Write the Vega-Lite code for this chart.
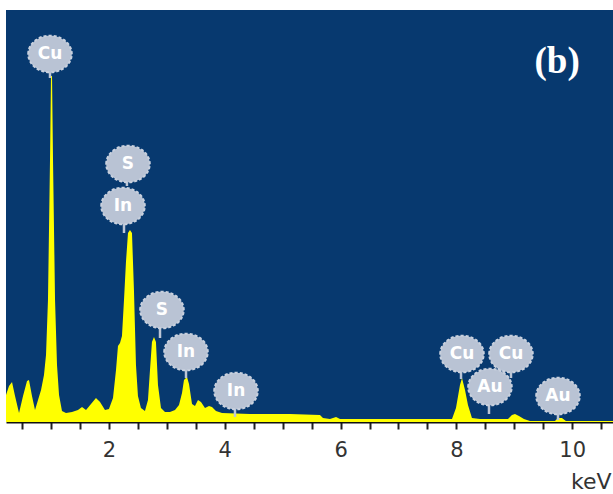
{
  "$schema": "https://vega.github.io/schema/vega-lite/v6.json",
  "width": 607,
  "height": 412,
  "autosize": {"type": "none"},
  "padding": {"left": 6, "top": 10, "right": 0, "bottom": 72},
  "background": "white",
  "config": {
    "view": {"fill": "#07396f", "stroke": null}
  },
  "datasets": {
    "spectrum": [
      {"energy": 0.221, "counts": 27}, {"energy": 0.273, "counts": 36}, {"energy": 0.325, "counts": 40},
      {"energy": 0.377, "counts": 26}, {"energy": 0.446, "counts": 9}, {"energy": 0.515, "counts": 26},
      {"energy": 0.584, "counts": 41}, {"energy": 0.618, "counts": 42}, {"energy": 0.670, "counts": 26},
      {"energy": 0.722, "counts": 12}, {"energy": 0.774, "counts": 22}, {"energy": 0.826, "counts": 32},
      {"energy": 0.877, "counts": 47}, {"energy": 0.912, "counts": 67}, {"energy": 0.946, "counts": 122},
      {"energy": 0.981, "counts": 262}, {"energy": 0.998, "counts": 346}, {"energy": 1.016, "counts": 346},
      {"energy": 1.033, "counts": 262}, {"energy": 1.068, "counts": 122}, {"energy": 1.102, "counts": 57},
      {"energy": 1.137, "counts": 27}, {"energy": 1.188, "counts": 11}, {"energy": 1.257, "counts": 9},
      {"energy": 1.361, "counts": 10}, {"energy": 1.464, "counts": 12}, {"energy": 1.534, "counts": 15},
      {"energy": 1.603, "counts": 12}, {"energy": 1.689, "counts": 18}, {"energy": 1.775, "counts": 24},
      {"energy": 1.845, "counts": 20}, {"energy": 1.931, "counts": 12}, {"energy": 1.999, "counts": 13},
      {"energy": 2.069, "counts": 24}, {"energy": 2.121, "counts": 52}, {"energy": 2.155, "counts": 76},
      {"energy": 2.190, "counts": 79}, {"energy": 2.224, "counts": 86}, {"energy": 2.259, "counts": 122},
      {"energy": 2.293, "counts": 160}, {"energy": 2.328, "counts": 189}, {"energy": 2.362, "counts": 192},
      {"energy": 2.397, "counts": 189}, {"energy": 2.431, "counts": 132}, {"energy": 2.466, "counts": 57},
      {"energy": 2.500, "counts": 26}, {"energy": 2.552, "counts": 14}, {"energy": 2.621, "counts": 11},
      {"energy": 2.673, "counts": 22}, {"energy": 2.708, "counts": 52}, {"energy": 2.742, "counts": 80},
      {"energy": 2.777, "counts": 85}, {"energy": 2.811, "counts": 80}, {"energy": 2.846, "counts": 37},
      {"energy": 2.898, "counts": 14}, {"energy": 2.967, "counts": 10}, {"energy": 3.053, "counts": 10},
      {"energy": 3.140, "counts": 12}, {"energy": 3.209, "counts": 17}, {"energy": 3.261, "counts": 29},
      {"energy": 3.295, "counts": 42}, {"energy": 3.347, "counts": 45}, {"energy": 3.382, "counts": 38},
      {"energy": 3.434, "counts": 18}, {"energy": 3.485, "counts": 16}, {"energy": 3.537, "counts": 22},
      {"energy": 3.589, "counts": 20}, {"energy": 3.658, "counts": 14}, {"energy": 3.727, "counts": 16},
      {"energy": 3.779, "counts": 15}, {"energy": 3.848, "counts": 11}, {"energy": 3.952, "counts": 9},
      {"energy": 4.435, "counts": 8}, {"energy": 5.126, "counts": 8}, {"energy": 5.644, "counts": 7},
      {"energy": 5.696, "counts": 4}, {"energy": 5.817, "counts": 3}, {"energy": 5.921, "counts": 5},
      {"energy": 5.990, "counts": 3}, {"energy": 7.026, "counts": 3}, {"energy": 7.924, "counts": 3},
      {"energy": 7.993, "counts": 14}, {"energy": 8.062, "counts": 37}, {"energy": 8.097, "counts": 44},
      {"energy": 8.149, "counts": 32}, {"energy": 8.200, "counts": 17}, {"energy": 8.269, "counts": 4},
      {"energy": 8.408, "counts": 3}, {"energy": 8.891, "counts": 3}, {"energy": 8.960, "counts": 7},
      {"energy": 9.012, "counts": 8}, {"energy": 9.081, "counts": 6}, {"energy": 9.167, "counts": 3},
      {"energy": 9.271, "counts": 1}, {"energy": 9.703, "counts": 1}, {"energy": 9.754, "counts": 4},
      {"energy": 9.823, "counts": 4}, {"energy": 9.892, "counts": 1}, {"energy": 10.705, "counts": 1}
    ],
    "labels": [
      {"element": "Cu", "energy": 0.981, "counts": 368, "stemEnergy": 0.981, "stemTop": 352, "stemBottom": 344},
      {"element": "S", "energy": 2.328, "counts": 258, "stemEnergy": 2.310, "stemTop": 242, "stemBottom": 236},
      {"element": "In", "energy": 2.242, "counts": 216, "stemEnergy": 2.259, "stemTop": 199, "stemBottom": 189},
      {"element": "S", "energy": 2.915, "counts": 112, "stemEnergy": 2.881, "stemTop": 96, "stemBottom": 84},
      {"element": "In", "energy": 3.330, "counts": 70, "stemEnergy": 3.330, "stemTop": 54, "stemBottom": 44},
      {"element": "In", "energy": 4.194, "counts": 31, "stemEnergy": 4.176, "stemTop": 14, "stemBottom": 5},
      {"element": "Cu", "energy": 8.097, "counts": 68, "stemEnergy": 8.080, "stemTop": 52, "stemBottom": 43},
      {"element": "Cu", "energy": 8.943, "counts": 68, "stemEnergy": 8.943, "stemTop": 52, "stemBottom": 44},
      {"element": "Au", "energy": 8.580, "counts": 35, "stemEnergy": 8.563, "stemTop": 19, "stemBottom": 8},
      {"element": "Au", "energy": 9.755, "counts": 26, "stemEnergy": 9.755, "stemTop": 10, "stemBottom": 2}
    ],
    "tag": [
      {"text": "(b)", "energy": 9.74, "counts": 360}
    ]
  },
  "encoding": {
    "x": {
      "field": "energy",
      "type": "quantitative",
      "scale": {"domain": [0.221, 10.705], "nice": false, "zero": false},
      "axis": {
        "title": "keV",
        "titleFont": "DejaVu Sans",
        "titleFontSize": 22,
        "titleFontWeight": "normal",
        "titleColor": "#333333",
        "titleAnchor": "end",
        "titleAlign": "right",
        "titleBaseline": "alphabetic",
        "titleX": 605,
        "titleY": 66,
        "values": [0.5, 1, 1.5, 2, 2.5, 3, 3.5, 4, 4.5, 5, 5.5, 6, 6.5, 7, 7.5, 8, 8.5, 9, 9.5, 10, 10.5],
        "labelExpr": "datum.value % 2 === 0 ? format(datum.value, 'd') : ''",
        "labelFont": "DejaVu Sans",
        "labelFontSize": 21,
        "labelColor": "#333333",
        "labelPadding": 10,
        "labelOverlap": false,
        "labelFlush": false,
        "grid": false,
        "domainColor": "#111111",
        "domainWidth": 2,
        "tickColor": "#222222",
        "tickWidth": 2,
        "tickSize": 7
      }
    },
    "y": {
      "field": "counts",
      "type": "quantitative",
      "scale": {"domain": [0, 412], "nice": false, "zero": true},
      "axis": null
    }
  },
  "layer": [
    {
      "data": {"name": "spectrum"},
      "mark": {"type": "area", "color": "#ffff00", "interpolate": "linear", "clip": true}
    },
    {
      "data": {"name": "labels"},
      "mark": {"type": "rule", "color": "#bcc6d6", "strokeWidth": 2.5},
      "encoding": {
        "x": {"field": "stemEnergy", "type": "quantitative"},
        "y": {"field": "stemTop", "type": "quantitative"},
        "y2": {"field": "stemBottom"}
      }
    },
    {
      "data": {"name": "labels"},
      "mark": {
        "type": "point",
        "shape": "M-1,0A1,0.84,0,1,1,1,0A1,0.84,0,1,1,-1,0Z",
        "size": 1900,
        "filled": true,
        "fill": "#b9c3d4",
        "fillOpacity": 1,
        "stroke": "#c9d1de",
        "strokeWidth": 2,
        "strokeDash": [3, 2]
      }
    },
    {
      "data": {"name": "labels"},
      "mark": {
        "type": "text",
        "font": "DejaVu Sans",
        "fontSize": 17,
        "fontWeight": "bold",
        "color": "#ffffff",
        "align": "center",
        "baseline": "middle"
      },
      "encoding": {"text": {"field": "element"}}
    },
    {
      "data": {"name": "tag"},
      "mark": {
        "type": "text",
        "font": "Liberation Serif",
        "fontSize": 37,
        "fontWeight": "bold",
        "color": "#ffffff",
        "align": "center",
        "baseline": "middle"
      },
      "encoding": {"text": {"field": "text"}}
    }
  ]
}
